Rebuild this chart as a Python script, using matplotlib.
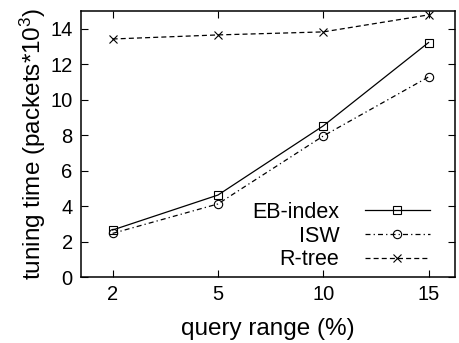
import numpy as np
import matplotlib
matplotlib.use("Agg")
import matplotlib.pyplot as plt

plt.rcParams['font.family'] = ['Liberation Sans', 'DejaVu Sans']
plt.rcParams['mathtext.fontset'] = 'custom'
plt.rcParams['mathtext.rm'] = 'Liberation Sans'
plt.rcParams['mathtext.default'] = 'rm'

# query range (%) on a categorical axis
query_range = ['2', '5', '10', '15']
eb_index = [2.65, 4.62, 8.52, 13.22]
isw = [2.46, 4.12, 7.95, 11.28]
r_tree = [13.42, 13.65, 13.82, 14.78]

x = np.arange(len(query_range))

fig = plt.figure(figsize=(4.59, 3.43), dpi=100)
ax = fig.add_axes([0.1765, 0.1924, 0.8145, 0.7756])

ax.plot(x, eb_index, color='black', lw=0.9, ls='-', marker='s', ms=6,
        mfc='none', mec='black', mew=0.8, label='EB-index')
ax.plot(x, isw, color='black', lw=0.9, ls=(0, (4, 2.5, 1, 2.5)), marker='o', ms=6,
        mfc='none', mec='black', mew=0.8, label='ISW')
ax.plot(x, r_tree, color='black', lw=0.9, ls=(0, (4, 2.5)), marker='x', ms=6,
        mec='black', mew=0.8, label='R-tree')

ax.set_xlim(-0.3, 3.25)
ax.set_ylim(0, 15)
ax.set_xticks(x)
ax.set_xticklabels(query_range)
ax.set_yticks(np.arange(0, 15, 2))

ax.tick_params(direction='in', length=5, width=0.8, labelsize=14.5,
               top=True, right=True, pad=6)
for s in ax.spines.values():
    s.set_linewidth(1.1)

ax.set_xlabel('query range (%)', fontsize=17.5, labelpad=10)
ax.set_ylabel('tuning time (packets*10$^{3}$)', fontsize=17.5, labelpad=2)

ax.legend(loc='lower right', markerfirst=False, frameon=False, fontsize=15.5,
          handlelength=3.0, handletextpad=1.2, labelspacing=0.12,
          borderaxespad=0.6, bbox_to_anchor=(0.99, -0.055))

fig.savefig('out.png', dpi=100)
